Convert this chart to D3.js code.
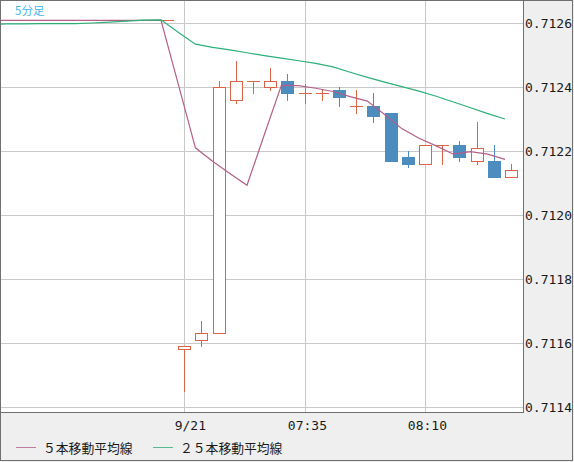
<!DOCTYPE html>
<html><head><meta charset="utf-8">
<script src="https://cdn.jsdelivr.net/npm/d3@7"></script>
<style>body{margin:0;background:#fff}svg{display:block}</style>
</head><body>
<svg id="chart" width="574" height="462"></svg>
<script>
// ---- data ----
const times = ["9/19 05:05","9/19 05:10","9/19 05:15","9/19 05:20","9/19 05:25","9/19 05:30","9/19 05:35","9/19 05:40","9/19 05:45","9/19 05:50","9/19 05:55",
  "07:00","07:05","07:10","07:15","07:20","07:25","07:30","07:35","07:40","07:45","07:50","07:55","08:00","08:05","08:10","08:15","08:20","08:25","08:30","08:35"];
const openV  = [0.712608,0.712608,0.712608,0.712608,0.712608,0.712608,0.712608,0.712608,0.712608,0.712608,0.712608,
  0.71158,0.71161,0.71163,0.71236,0.71242,0.71240,0.71242,0.71238,0.71238,0.71239,0.71234,0.71234,0.71232,0.71218,0.71216,0.71222,0.71222,0.71217,0.71217,0.71212];
const highV  = [0.712608,0.712608,0.712608,0.712608,0.712608,0.712608,0.712608,0.712608,0.712608,0.712608,0.712608,
  0.71159,0.71167,0.71242,0.71248,0.71242,0.71246,0.71244,0.71241,0.712395,0.71240,0.71239,0.71238,0.71232,0.71220,0.71222,0.71222,0.71223,0.71229,0.71222,0.71216];
const lowV   = [0.712608,0.712608,0.712608,0.712608,0.712608,0.712608,0.712608,0.712608,0.712608,0.712608,0.712608,
  0.71145,0.71159,0.71163,0.71235,0.71238,0.71239,0.71236,0.71235,0.71236,0.71234,0.71232,0.71229,0.71217,0.71215,0.71216,0.71216,0.71217,0.71216,0.71212,0.71212];
const closeV = [0.712608,0.712608,0.712608,0.712608,0.712608,0.712608,0.712608,0.712608,0.712608,0.712608,0.712608,
  0.71159,0.71163,0.71240,0.71242,0.71242,0.71242,0.71238,0.71238,0.71238,0.71237,0.71234,0.71231,0.71217,0.71216,0.71222,0.71222,0.71218,0.71221,0.71212,0.71214];
const ma5  = [0.712608,0.712608,0.712608,0.712608,0.712608,0.712608,0.712608,0.712608,0.712608,0.712608,0.712608,
  0.71241,0.71221,0.712168,0.71213,0.712093,0.71225,0.712405,0.712404,0.712396,0.712386,0.71237,0.712356,0.712314,0.71227,0.71224,0.712216,0.71219,0.712198,0.71219,0.712174];
const ma25 = [0.712596,0.712597,0.712597,0.712598,0.712598,0.712598,0.7126,0.712603,0.712606,0.712609,0.71261,
  0.712571,0.712534,0.712524,0.712516,0.712507,0.712498,0.71249,0.712482,0.712474,0.712463,0.712446,0.71243,0.712415,0.712401,0.712387,0.712371,0.712353,0.712335,0.712317,0.7123];
const yTicks = [0.7114,0.7116,0.7118,0.7120,0.7122,0.7124,0.7126];
const xTickTimes = ["07:00","07:35","08:10"];
const xTickLabels = ["9/21","07:35","08:10"];
const legendNames = ["５本移動平均線","２５本移動平均線"];
const title = "5分足";

// ---- layout ----
const W = 574, H = 462;
const plot = {x0: 1, y0: 1, x1: 523, y1: 412};
const upColor = "#dc6446", downColor = "#4d8cbf";
const ma5Color = "#b45f87", ma25Color = "#2daf78";
const maShift = -6;
const bodyW = 12;

const svg = d3.select("#chart");
const x = d3.scaleLinear().domain([11, 30]).range([184.2, 511]);
const y = d3.scaleLinear().domain([0.7114, 0.7126]).range([407, 23]);
const idx = d3.range(times.length);

// backgrounds
svg.append("rect").attr("x",0).attr("y",0).attr("width",W).attr("height",H).attr("fill","#efefef");
svg.append("rect").attr("x",plot.x0).attr("y",plot.y0).attr("width",plot.x1-plot.x0).attr("height",plot.y1-plot.y0).attr("fill","#fff");

svg.append("defs").append("clipPath").attr("id","clip").append("rect")
  .attr("x",plot.x0).attr("y",plot.y0).attr("width",plot.x1-plot.x0).attr("height",plot.y1-plot.y0);

// grid
const grid = svg.append("g").attr("shape-rendering","crispEdges").attr("stroke","#c8c8c8").attr("stroke-width",1);
grid.selectAll("line.h").data(yTicks).join("line")
  .attr("x1",plot.x0).attr("x2",plot.x1)
  .attr("y1",d=>Math.round(y(d))+0.5).attr("y2",d=>Math.round(y(d))+0.5);
const xTickIdx = xTickTimes.map(t=>times.indexOf(t));
grid.selectAll("line.v").data(xTickIdx).join("line")
  .attr("y1",plot.y0).attr("y2",plot.y1)
  .attr("x1",d=>Math.round(x(d))+0.5).attr("x2",d=>Math.round(x(d))+0.5);

// candles
const cg = svg.append("g").attr("clip-path","url(#clip)").attr("shape-rendering","crispEdges");
const cand = cg.selectAll("g.c").data(idx).join("g");
const colorOf = i => closeV[i] < openV[i] ? downColor : upColor;
cand.append("line")
  .attr("x1",i=>Math.round(x(i))+0.5).attr("x2",i=>Math.round(x(i))+0.5)
  .attr("y1",i=>Math.round(y(highV[i]))).attr("y2",i=>Math.round(y(lowV[i]))+1)
  .attr("stroke",colorOf);
cand.each(function(i){
  const g = d3.select(this);
  const cx = Math.round(x(i));
  const yo = Math.round(y(openV[i])), yc = Math.round(y(closeV[i]));
  if (closeV[i] < openV[i]) {
    g.append("rect").attr("x",cx-6).attr("y",yo).attr("width",bodyW+1).attr("height",Math.max(1,yc-yo+1)).attr("fill",downColor);
  } else if (closeV[i] > openV[i]) {
    g.append("rect").attr("x",cx-5.5).attr("y",yc+0.5).attr("width",bodyW).attr("height",yo-yc).attr("fill","#fff").attr("stroke",upColor);
  } else {
    g.append("line").attr("x1",cx-6).attr("x2",cx+7).attr("y1",yo+0.5).attr("y2",yo+0.5).attr("stroke",upColor);
  }
});

// moving averages
const lineGen = arr => d3.line().x(i=>x(i)+maShift).y(i=>y(arr[i]));
const mg = svg.append("g").attr("clip-path","url(#clip)");
mg.append("path").attr("d",lineGen(ma5)(idx)).attr("fill","none").attr("stroke",ma5Color).attr("stroke-width",1.2);
mg.append("path").attr("d",lineGen(ma25)(idx)).attr("fill","none").attr("stroke",ma25Color).attr("stroke-width",1.2);

// frames
const fr = svg.append("g").attr("shape-rendering","crispEdges").attr("stroke","#707070").attr("fill","none");
fr.append("line").attr("x1",plot.x1+0.5).attr("x2",plot.x1+0.5).attr("y1",0).attr("y2",plot.y1+1);
fr.append("line").attr("x1",0).attr("x2",plot.x1+1).attr("y1",plot.y1+0.5).attr("y2",plot.y1+0.5);
fr.append("rect").attr("x",0.5).attr("y",0.5).attr("width",W-2).attr("height",H-2);

// y axis labels
svg.append("g").selectAll("text").data(yTicks).join("text")
  .attr("x",525).attr("y",d=>y(d)+5)
  .attr("font-family","'DejaVu Sans Mono', monospace").attr("font-size",13).attr("fill","#1a1a1a")
  .text(d=>d.toFixed(4));

// x axis labels
svg.append("g").selectAll("text").data(xTickIdx).join("text")
  .attr("x",d=>Math.round(x(d))+22).attr("y",430).attr("text-anchor","end")
  .attr("font-family","'DejaVu Sans Mono', monospace").attr("font-size",13).attr("fill","#1a1a1a")
  .text((d,k)=>xTickLabels[k]);

// title
svg.append("text").attr("x",15).attr("y",15).attr("font-family","'Noto Sans CJK JP', sans-serif")
  .attr("font-size",11.5).attr("fill","#45b5ee").text(title);

// legend
const lg = svg.append("g");
const legendX = [16, 153];
const legendColors = [ma5Color, ma25Color];
legendNames.forEach((n,k)=>{
  lg.append("line").attr("x1",legendX[k]).attr("x2",legendX[k]+20).attr("y1",447.5).attr("y2",447.5)
    .attr("stroke",legendColors[k]).attr("stroke-opacity",0.8).attr("shape-rendering","crispEdges");
  lg.append("text").attr("x",legendX[k]+27).attr("y",452.5)
    .attr("font-family","'Noto Sans CJK JP', sans-serif").attr("font-size",12.8).attr("fill","#1a1a1a").text(n);
});
</script>
</body></html>
